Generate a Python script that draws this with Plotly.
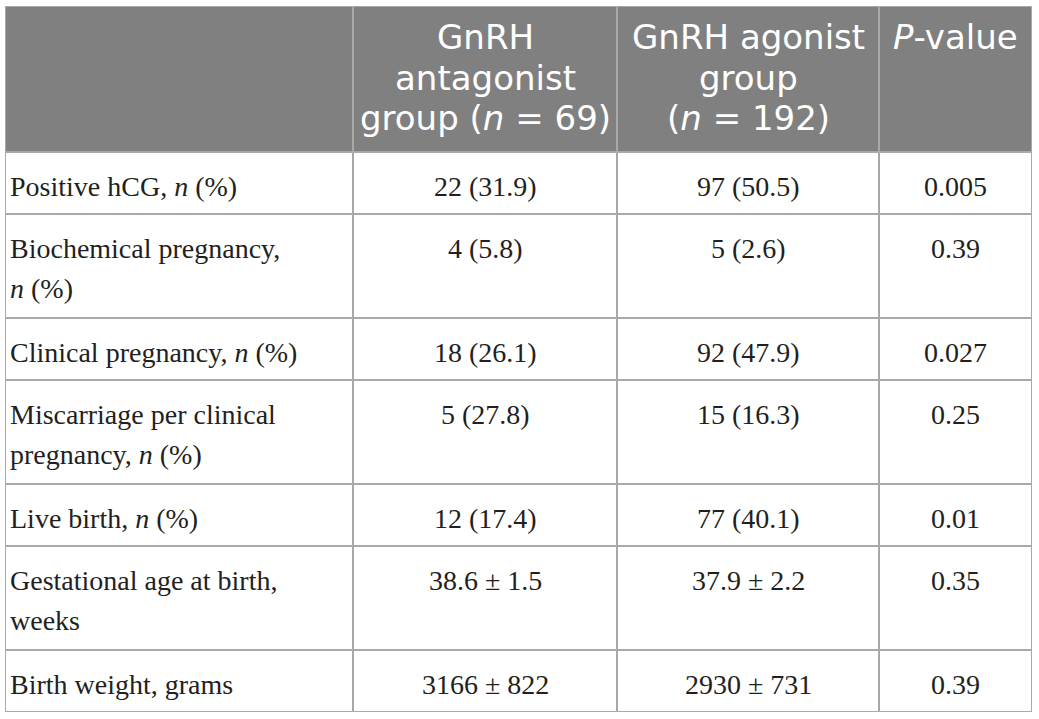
import plotly.graph_objects as go

# table contents
HEADER = [
    [],
    ["GnRH", "antagonist", "group (<i>n</i> = 69)"],
    ["GnRH agonist", "group", "(<i>n</i> = 192)"],
    ["<i>P</i>-value"],
]
OUTCOMES = [
    ["Positive hCG, <i>n</i> (%)"],
    ["Biochemical pregnancy,", "<i>n</i> (%)"],
    ["Clinical pregnancy, <i>n</i> (%)"],
    ["Miscarriage per clinical", "pregnancy, <i>n</i> (%)"],
    ["Live birth, <i>n</i> (%)"],
    ["Gestational age at birth,", "weeks"],
    ["Birth weight, grams"],
]
ANTAGONIST = ["22 (31.9)", "4 (5.8)", "18 (26.1)", "5 (27.8)", "12 (17.4)",
              "38.6 ± 1.5", "3166 ± 822"]
AGONIST = ["97 (50.5)", "5 (2.6)", "92 (47.9)", "15 (16.3)", "77 (40.1)",
           "37.9 ± 2.2", "2930 ± 731"]
P_VALUES = ["0.005", "0.39", "0.027", "0.25", "0.01", "0.35", "0.39"]

# layout (pixel-ish units on the axes)
COL_W = [348, 264, 262, 153]
HEADER_H = 146
ROW_H = {1: 62, 2: 104}
HEAD_BG = "#808080"
GRID = "#a9a9a9"
INK = "#231f20"
HEAD_FONT = dict(family="DejaVu Sans", size=34, color="white")
BODY_FONT = dict(family="Liberation Serif", size=28, color=INK)

col_x = [0]
for w in COL_W:
    col_x.append(col_x[-1] + w)

rows = [[o] + [[a], [g], [p]] for o, a, g, p in zip(OUTCOMES, ANTAGONIST, AGONIST, P_VALUES)]
row_y = [0, HEADER_H]
for r in rows:
    row_y.append(row_y[-1] + ROW_H[max(len(c) for c in r)])

shapes = []
annotations = []


def add_cell(ci, y0, y1, lines, fill, font, first, step, left=False):
    shapes.append(dict(type="rect", xref="x", yref="y", x0=col_x[ci], x1=col_x[ci + 1],
                       y0=y0, y1=y1, fillcolor=fill, line=dict(color=GRID, width=2),
                       layer="below"))
    for k, txt in enumerate(lines):
        annotations.append(dict(
            x=col_x[ci] + 3 if left else (col_x[ci] + col_x[ci + 1]) / 2,
            y=y0 + first + step * k, xref="x", yref="y", text=txt, showarrow=False,
            xanchor="left" if left else "center", yanchor="middle", font=font))


for ci, lines in enumerate(HEADER):
    add_cell(ci, row_y[0], row_y[1], lines, HEAD_BG, HEAD_FONT, 31, 40.5)

for ri, r in enumerate(rows):
    for ci, lines in enumerate(r):
        add_cell(ci, row_y[ri + 1], row_y[ri + 2], lines, "white", BODY_FONT, 34, 40,
                 left=(ci == 0))

fig = go.Figure(go.Scatter(x=[], y=[]))
fig.update_layout(
    width=1039, height=719,
    margin=dict(l=5, r=7, t=6, b=719 - 6 - row_y[-1]),
    paper_bgcolor="white", plot_bgcolor="white",
    shapes=shapes, annotations=annotations, showlegend=False,
    xaxis=dict(range=[0, col_x[-1]], visible=False, fixedrange=True),
    yaxis=dict(range=[row_y[-1], 0], visible=False, fixedrange=True),
)
fig.write_html("out.html", config={"displayModeBar": False},
               post_script="document.body.style.margin = '0';")
